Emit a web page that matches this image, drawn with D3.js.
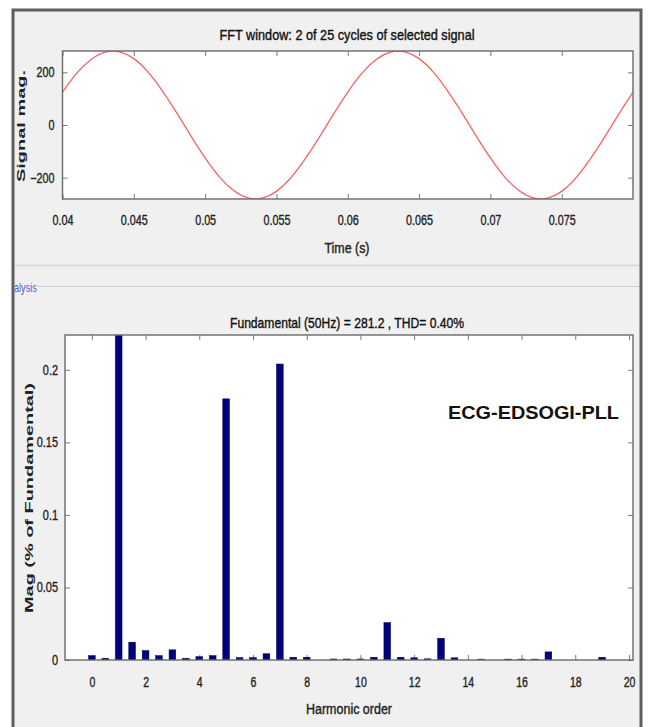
<!DOCTYPE html>
<html>
<head>
<meta charset="utf-8">
<script src="https://cdn.jsdelivr.net/npm/d3@7"></script>
<style>
  body { margin: 0; background: #fff; }
  svg { display: block; font-family: "Liberation Sans", Arial, sans-serif; }
</style>
</head>
<body>
<div id="chart"></div>
<script>
// signal window (time in s, magnitude)
const timeS = [0.040, 0.041, 0.042, 0.043, 0.044, 0.045, 0.046, 0.047, 0.048, 0.049,
  0.050, 0.051, 0.052, 0.053, 0.054, 0.055, 0.056, 0.057, 0.058, 0.059,
  0.060, 0.061, 0.062, 0.063, 0.064, 0.065, 0.066, 0.067, 0.068, 0.069,
  0.070, 0.071, 0.072, 0.073, 0.074, 0.075, 0.076, 0.077, 0.078, 0.079, 0.080];
const signalMag = [125, 197, 249, 277, 278, 252, 201, 130, 47, -41,
  -125, -197, -249, -277, -278, -252, -201, -130, -47, 41,
  125, 197, 249, 277, 278, 252, 201, 130, 47, -41,
  -125, -197, -249, -277, -278, -252, -201, -130, -47, 41, 125];
const timeTicks = [0.04, 0.045, 0.05, 0.055, 0.06, 0.065, 0.07, 0.075];
const signalTicks = [-200, 0, 200];

// harmonic spectrum (% of fundamental)
const harmonicOrder = [0, 0.5, 1, 1.5, 2, 2.5, 3, 3.5, 4, 4.5, 5, 5.5, 6, 6.5, 7, 7.5, 8, 8.5, 9, 9.5,
  10, 10.5, 11, 11.5, 12, 12.5, 13, 13.5, 14, 14.5, 15, 15.5, 16, 16.5, 17, 17.5, 18, 18.5, 19, 19.5, 20];
const magPct = [0.003, 0.0012, 100, 0.0123, 0.0065, 0.003, 0.007, 0.0012, 0.0023, 0.003,
  0.18, 0.0016, 0.0016, 0.0043, 0.204, 0.0019, 0.0019, 0, 0.0007, 0.0007,
  0.0007, 0.0019, 0.0258, 0.0019, 0.0015, 0.0008, 0.015, 0.0015, 0, 0.0006,
  0, 0.0006, 0.0006, 0.0006, 0.0056, 0, 0, 0, 0.0019, 0, 0];
const orderTicks = [0, 2, 4, 6, 8, 10, 12, 14, 16, 18, 20];
const magTicks = [0, 0.05, 0.1, 0.15, 0.2];

const width = 650;
const height = 727;
const svg = d3.select("#chart").append("svg")
  .attr("width", width)
  .attr("height", height);

// squeeze text horizontally, the screenshot is narrow
function squeeze(sel, k) {
  sel.each(function() {
    const len = this.getComputedTextLength();
    d3.select(this).attr("textLength", len * k).attr("lengthAdjust", "spacingAndGlyphs");
  });
}

// a bit heavier, like the blurry screenshot
function heavy(sel, w) {
  sel.attr("stroke", "#222").attr("stroke-width", w).attr("paint-order", "stroke");
}

svg.append("rect").attr("width", width).attr("height", height).attr("fill", "#fff");

// window frame
svg.append("rect")
  .attr("x", 13).attr("y", 10)
  .attr("width", 628).attr("height", 740)
  .attr("fill", "#f0f0f0")
  .attr("stroke", "#5f5f5f")
  .attr("stroke-width", 3);

svg.append("line")
  .attr("x1", 15).attr("x2", 639).attr("y1", 265.5).attr("y2", 265.5)
  .attr("stroke", "#d9d9d9").attr("stroke-width", 2);
svg.append("line")
  .attr("x1", 38).attr("x2", 639).attr("y1", 286.5).attr("y2", 286.5)
  .attr("stroke", "#cfcfcf").attr("stroke-width", 1);
svg.append("text")
  .attr("x", 14).attr("y", 292)
  .attr("font-size", 13)
  .attr("fill", "#5a5ad2")
  .text("alysis")
  .call(squeeze, 0.7);

svg.append("defs").append("clipPath").attr("id", "clipTop")
  .append("rect").attr("x", 62.5).attr("y", 51).attr("width", 570.5).attr("height", 148);
svg.select("defs").append("clipPath").attr("id", "clipBot")
  .append("rect").attr("x", 65).attr("y", 335).attr("width", 568).attr("height", 325);

function styleAxis(g) {
  g.select(".domain").remove();
  g.selectAll(".tick line").attr("stroke", "#7a7a7a");
  g.selectAll(".tick text").attr("fill", "#222").attr("font-size", 14).call(heavy, 0.35);
}

// ---------- top panel: signal ----------
const x1 = d3.scaleLinear().domain([0.04, 0.08]).range([62.5, 633]);
const y1 = d3.scaleLinear().domain([-281, 281]).range([199, 51]);

svg.append("rect")
  .attr("x", 62.5).attr("y", 51).attr("width", 570.5).attr("height", 148)
  .attr("fill", "#fff");

svg.append("g").attr("transform", "translate(0,199)")
  .call(d3.axisBottom(x1).tickValues(timeTicks).tickFormat(d3.format("~g"))
    .tickSizeInner(-5).tickSizeOuter(0).tickPadding(16))
  .call(styleAxis)
  .call(g => g.selectAll(".tick text").call(squeeze, 0.77));
svg.append("g").attr("transform", "translate(0,51)")
  .call(d3.axisTop(x1).tickValues(timeTicks).tickFormat("").tickSizeInner(-5).tickSizeOuter(0))
  .call(styleAxis);
svg.append("g").attr("transform", "translate(62.5,0)")
  .call(d3.axisLeft(y1).tickValues(signalTicks).tickSizeInner(-5).tickSizeOuter(0).tickPadding(8))
  .call(styleAxis)
  .call(g => g.selectAll(".tick text").call(squeeze, 0.77));
svg.append("g").attr("transform", "translate(633,0)")
  .call(d3.axisRight(y1).tickValues(signalTicks).tickFormat("").tickSizeInner(-5).tickSizeOuter(0))
  .call(styleAxis);

svg.append("path")
  .datum(timeS.map((t, i) => [t, signalMag[i]]))
  .attr("clip-path", "url(#clipTop)")
  .attr("fill", "none")
  .attr("stroke", "#f46464")
  .attr("stroke-width", 1.3)
  .attr("d", d3.line().x(d => x1(d[0])).y(d => y1(d[1])).curve(d3.curveNatural));

svg.append("rect")
  .attr("x", 62.5).attr("y", 51).attr("width", 570.5).attr("height", 148)
  .attr("fill", "none").attr("stroke", "#6a6a6a").attr("stroke-width", 1.4);

svg.append("text")
  .attr("x", 347).attr("y", 40)
  .attr("text-anchor", "middle")
  .attr("font-size", 15)
  .attr("fill", "#111")
  .attr("textLength", 255).attr("lengthAdjust", "spacingAndGlyphs")
  .text("FFT window: 2 of 25 cycles of selected signal")
  .call(heavy, 0.4);

svg.append("text")
  .attr("x", 347).attr("y", 253)
  .attr("text-anchor", "middle")
  .attr("font-size", 15)
  .attr("fill", "#222")
  .attr("textLength", 45).attr("lengthAdjust", "spacingAndGlyphs")
  .text("Time (s)")
  .call(heavy, 0.4);

svg.append("g")
  .attr("transform", "translate(25,126) scale(0.65,1)")
  .append("text")
  .attr("transform", "rotate(-90)")
  .attr("text-anchor", "middle")
  .attr("font-size", 17)
  .attr("font-weight", "bold")
  .attr("fill", "#222")
  .attr("textLength", 112).attr("lengthAdjust", "spacingAndGlyphs")
  .text("Signal mag.");

// ---------- bottom panel: spectrum ----------
const x2 = d3.scaleLinear().domain([-1, 20.15]).range([65, 633]);
const y2 = d3.scaleLinear().domain([0, 0.224]).range([660, 335]);
const barW = x2(0.25) - x2(0);

svg.append("rect")
  .attr("x", 65).attr("y", 335).attr("width", 568).attr("height", 325)
  .attr("fill", "#fff");

svg.append("g").attr("transform", "translate(0,660)")
  .call(d3.axisBottom(x2).tickValues(orderTicks).tickSizeInner(-5).tickSizeOuter(0).tickPadding(17))
  .call(styleAxis)
  .call(g => g.selectAll(".tick text").call(squeeze, 0.75));
svg.append("g").attr("transform", "translate(0,335)")
  .call(d3.axisTop(x2).tickValues(orderTicks).tickFormat("").tickSizeInner(-5).tickSizeOuter(0))
  .call(styleAxis);
svg.append("g").attr("transform", "translate(65,0)")
  .call(d3.axisLeft(y2).tickValues(magTicks).tickFormat(d3.format("~g"))
    .tickSizeInner(-5).tickSizeOuter(0).tickPadding(7))
  .call(styleAxis)
  .call(g => g.selectAll(".tick text").call(squeeze, 0.78));
svg.append("g").attr("transform", "translate(633,0)")
  .call(d3.axisRight(y2).tickValues(magTicks).tickFormat("").tickSizeInner(-5).tickSizeOuter(0))
  .call(styleAxis);

svg.append("g").attr("clip-path", "url(#clipBot)")
  .selectAll("rect")
  .data(harmonicOrder.map((h, i) => ({ h: h, v: magPct[i] })))
  .enter()
  .append("rect")
  .attr("x", d => x2(d.h) - barW / 2)
  .attr("y", d => y2(d.v))
  .attr("width", barW)
  .attr("height", d => y2(0) - y2(d.v))
  .attr("fill", "#00007f")
  .attr("stroke", "#000050")
  .attr("stroke-width", 0.5);

svg.append("rect")
  .attr("x", 65).attr("y", 335).attr("width", 568).attr("height", 325)
  .attr("fill", "none").attr("stroke", "#6a6a6a").attr("stroke-width", 1.4);

svg.append("text")
  .attr("x", 347).attr("y", 328)
  .attr("text-anchor", "middle")
  .attr("font-size", 15)
  .attr("fill", "#111")
  .attr("textLength", 234).attr("lengthAdjust", "spacingAndGlyphs")
  .text("Fundamental (50Hz) = 281.2 , THD= 0.40%")
  .call(heavy, 0.4);

svg.append("text")
  .attr("x", 349).attr("y", 714)
  .attr("text-anchor", "middle")
  .attr("font-size", 15)
  .attr("fill", "#222")
  .attr("textLength", 86).attr("lengthAdjust", "spacingAndGlyphs")
  .text("Harmonic order")
  .call(heavy, 0.4);

svg.append("g")
  .attr("transform", "translate(33,498) scale(0.65,1)")
  .append("text")
  .attr("transform", "rotate(-90)")
  .attr("text-anchor", "middle")
  .attr("font-size", 18)
  .attr("font-weight", "bold")
  .attr("fill", "#222")
  .attr("textLength", 230).attr("lengthAdjust", "spacingAndGlyphs")
  .text("Mag (% of Fundamental)");

svg.append("text")
  .attr("x", 448).attr("y", 419)
  .attr("font-size", 18)
  .attr("font-weight", "bold")
  .attr("fill", "#111")
  .attr("textLength", 171).attr("lengthAdjust", "spacingAndGlyphs")
  .text("ECG-EDSOGI-PLL");
</script>
</body>
</html>
